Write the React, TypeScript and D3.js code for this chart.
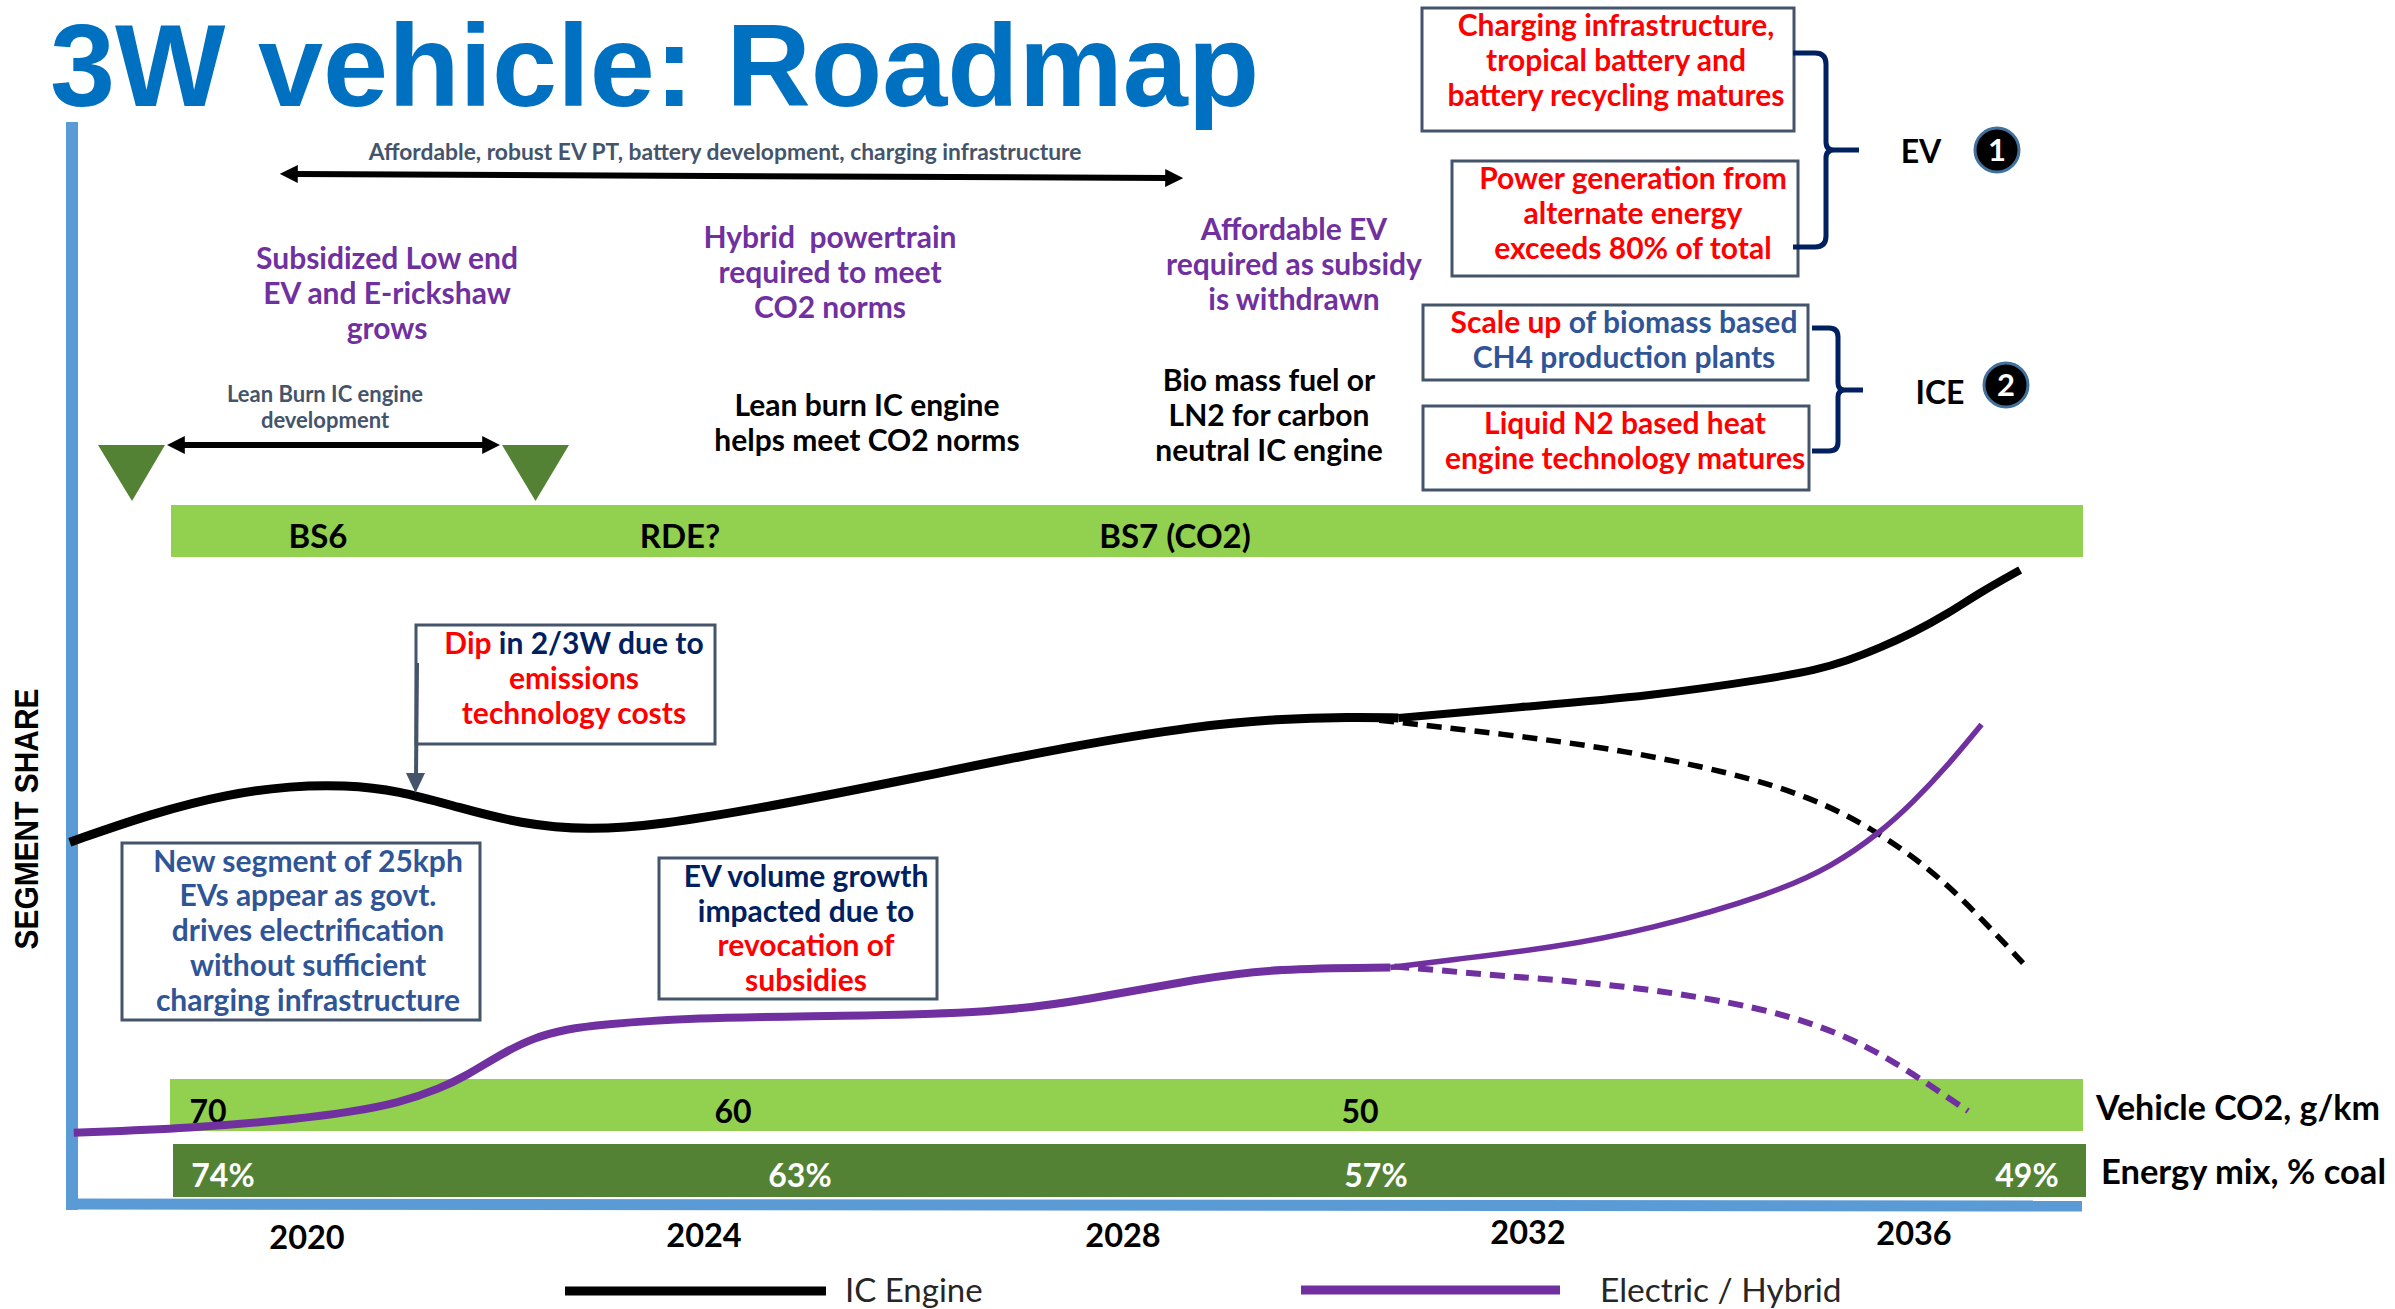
import React from 'react';
import * as d3 from 'd3';

// Curves: [year, segment share %]
const icEngine = [
  [2017.61, 33.5], [2018.45, 36.2], [2019.22, 38.0], [2019.84, 38.7], [2020.37, 38.8], [2020.92, 38.3],
  [2021.53, 36.7], [2022.15, 35.2], [2022.84, 34.6], [2023.54, 35.1], [2024.58, 36.7], [2026.04, 39.5],
  [2027.5, 42.4], [2028.76, 44.3], [2029.51, 44.9], [2030.26, 45.1], [2030.72, 45.0],
];
const icEngineHigh = [
  [2030.72, 45.0], [2031.89, 46.0], [2033.26, 47.0], [2034.61, 48.8], [2034.96, 49.4], [2035.31, 50.3],
  [2035.65, 51.5], [2035.99, 52.9], [2036.34, 54.6], [2036.68, 56.6], [2037.1, 58.7],
];
const icEngineLow = [
  [2030.53, 44.8], [2031.77, 43.5], [2032.94, 42.1], [2034.13, 39.9], [2034.92, 37.7], [2035.55, 34.9],
  [2036.19, 30.9], [2036.65, 26.9], [2037.13, 22.3],
];
const electric = [
  [2017.65, 6.6], [2018.83, 7.0], [2019.93, 7.9], [2020.43, 8.5], [2020.94, 9.4], [2021.34, 10.7],
  [2021.61, 11.9], [2021.94, 13.8], [2022.28, 15.4], [2022.62, 16.2], [2022.95, 16.6], [2023.85, 17.25],
  [2025.32, 17.4], [2026.78, 17.7], [2027.65, 18.9], [2028.76, 20.9], [2029.51, 21.8], [2030.64, 21.9],
];
const electricHigh = [
  [2030.64, 21.9], [2031.23, 22.6], [2032.23, 23.7], [2033.26, 25.4], [2034.53, 28.7], [2035.16, 31.3],
  [2035.65, 34.4], [2035.99, 37.2], [2036.34, 40.5], [2036.7, 44.4],
];
const electricLow = [
  [2030.68, 22.0], [2031.77, 21.1], [2032.94, 20.3], [2034.13, 18.7], [2034.92, 16.9], [2035.55, 14.5],
  [2036.1, 11.4], [2036.56, 8.6],
];

const tickYears = [2020, 2024, 2028, 2032, 2036];
const tickBaselines = [1249, 1247, 1247, 1244, 1245];
const normLabels = ['BS6', 'RDE?', 'BS7 (CO2)'];
const normX = [318, 680, 1175];
const co2Labels = ['70', '60', '50'];
const co2X = [208, 733, 1360];
const coalLabels = ['74%', '63%', '57%', '49%'];
const coalX = [223, 800, 1376, 2027];

const BLUE = '#2F5597';
const NAVY = '#002060';
const RED = '#FF0000';
const PURPLE = '#7030A0';
const SLATE = '#44546A';
const LIGHT_GREEN = '#92D050';
const DARK_GREEN = '#548235';
const AXIS = '#5B9BD5';

// the year axis of the slide is not quite even, so it is piecewise
const x = d3.scaleLinear().domain(tickYears).range([307, 704, 1123, 1528, 1914]);
const y = d3.scaleLinear().domain([0, 100]).range([1204, 124]);
const line = d3
  .line()
  .x((d) => x(d[0]))
  .y((d) => y(d[1]))
  .curve(d3.curveBasis);

const BODY = 'Lato, sans-serif';

const Note = ({ x, y, lines, fill = 'black', size = 30, step = 34.8 }) => (
  <text fontFamily={BODY} fontWeight={700} fontSize={size} fill={fill} textAnchor="middle">
    {lines.map((l, i) => (
      <tspan key={i} x={x} y={y + 1 + i * step}>
        {l}
      </tspan>
    ))}
  </text>
);

const Box = ({ x0, y0, x1, y1 }) => (
  <rect x={x0} y={y0} width={x1 - x0} height={y1 - y0} fill="white" stroke={SLATE} strokeWidth={3} />
);

const Badge = ({ cx, cy, label }) => (
  <g>
    <circle cx={cx} cy={cy} r={22} fill="black" stroke="#41719C" strokeWidth={3} />
    <text x={cx} y={cy + 11} textAnchor="middle" fontFamily={BODY} fontWeight={700} fontSize={31} fill="white">
      {label}
    </text>
  </g>
);

export default function App() {
  return (
    <svg width={2395} height={1309} style={{ position: 'absolute', left: 0, top: 0, background: 'white' }}>
      <defs>
        <marker id="head" viewBox="0 0 10 10" refX="1" refY="5" markerWidth="3" markerHeight="3" orient="auto-start-reverse">
          <path d="M0,0 L10,5 L0,10 Z" fill="black" />
        </marker>
      </defs>

      {/* title */}
      <text x={50} y={106} fontFamily="'Liberation Sans', Arial, sans-serif" fontWeight={700} fontSize={117} fill="#0070C0">
        3W vehicle: Roadmap
      </text>

      {/* axes */}
      <line x1={72} y1={122} x2={72} y2={1210} stroke={AXIS} strokeWidth={12} />
      <path d="M68,1204 L2082,1206" stroke={AXIS} strokeWidth={11} fill="none" />
      <text
        transform="translate(38,819) rotate(-90)"
        textAnchor="middle"
        fontFamily="'Liberation Sans', sans-serif"
        fontWeight={700}
        fontSize={33}
        textLength={261}
        lengthAdjust="spacingAndGlyphs"
      >
        SEGMENT SHARE
      </text>

      {/* roadmap arrows and milestones */}
      <line x1={296} y1={174} x2={1167} y2={178} stroke="black" strokeWidth={6} markerStart="url(#head)" markerEnd="url(#head)" />
      <line x1={183} y1={445} x2={484} y2={445} stroke="black" strokeWidth={6} markerStart="url(#head)" markerEnd="url(#head)" />
      <path d="M98,445 H165 L132,501 Z" fill={DARK_GREEN} />
      <path d="M502,445 H569 L535.5,501 Z" fill={DARK_GREEN} />

      <Note x={725} y={159} fill={SLATE} size={22.8} lines={['Affordable, robust EV PT, battery development, charging infrastructure']} />
      <Note x={387} y={268} fill={PURPLE} lines={['Subsidized Low end', 'EV and E-rickshaw', 'grows']} />
      <Note x={830} y={247} fill={PURPLE} lines={['Hybrid\u00A0 powertrain', 'required to meet', 'CO2 norms']} />
      <Note x={1294} y={239} fill={PURPLE} lines={['Affordable EV', 'required as subsidy', 'is withdrawn']} />
      <Note x={325} y={401} fill={SLATE} size={22} step={26} lines={['Lean Burn IC engine', 'development']} />
      <Note x={867} y={415} lines={['Lean burn IC engine', 'helps meet CO2 norms']} />
      <Note x={1269} y={390} lines={['Bio mass fuel or', 'LN2 for carbon', 'neutral IC engine']} />

      {/* bars */}
      <rect x={171} y={505} width={1912} height={52} fill={LIGHT_GREEN} />
      <rect x={170} y={1079} width={1913} height={52} fill={LIGHT_GREEN} />
      <rect x={173} y={1144} width={1913} height={53} fill={DARK_GREEN} />
      {normLabels.map((l, i) => (
        <text key={l} x={normX[i]} y={548} textAnchor="middle" fontFamily={BODY} fontWeight={700} fontSize={33}>
          {l}
        </text>
      ))}
      {co2Labels.map((l, i) => (
        <text key={l} x={co2X[i]} y={1123} textAnchor="middle" fontFamily={BODY} fontWeight={700} fontSize={32}>
          {l}
        </text>
      ))}
      {coalLabels.map((l, i) => (
        <text key={l} x={coalX[i]} y={1187} textAnchor="middle" fontFamily={BODY} fontWeight={700} fontSize={32} fill="white">
          {l}
        </text>
      ))}
      <text x={2096} y={1120} fontFamily={BODY} fontWeight={700} fontSize={34}>
        Vehicle CO2, g/km
      </text>
      <text x={2101} y={1184} fontFamily={BODY} fontWeight={700} fontSize={34.5}>
        Energy mix, % coal
      </text>

      {/* curves */}
      <path d={line(icEngine)} fill="none" stroke="black" strokeWidth={9} />
      <path d={line(icEngineHigh)} fill="none" stroke="black" strokeWidth={8} />
      <path d={line(icEngineLow)} fill="none" stroke="black" strokeWidth={5.5} strokeDasharray="15 9" />
      <path d={line(electric)} fill="none" stroke={PURPLE} strokeWidth={8} />
      <path d={line(electricHigh)} fill="none" stroke={PURPLE} strokeWidth={5.5} />
      <path d={line(electricLow)} fill="none" stroke={PURPLE} strokeWidth={6} strokeDasharray="15 9" />

      {/* call-outs on the curves */}
      <Box x0={416} y0={625} x1={715} y1={744} />
      <path d="M417,663 L416,776" stroke={SLATE} strokeWidth={4} fill="none" />
      <path d="M406,773 H425 L415.5,793 Z" fill={SLATE} />
      <Note
        x={574}
        y={653}
        fill={RED}
        lines={[
          <>
            Dip <tspan fill={NAVY}>in 2/3W due to</tspan>
          </>,
          'emissions',
          'technology costs',
        ]}
      />
      <Box x0={122} y0={843} x1={480} y1={1020} />
      <Note
        x={308}
        y={870.5}
        fill={BLUE}
        lines={['New segment of 25kph', 'EVs appear as govt.', 'drives electrification', 'without sufficient', 'charging infrastructure']}
      />
      <Box x0={659} y0={858} x1={937} y1={999} />
      <Note x={806} y={886} fill={NAVY} lines={['EV volume growth', 'impacted due to']} />
      <Note x={806} y={955} fill={RED} lines={['revocation of', 'subsidies']} />

      {/* enablers */}
      <Box x0={1422} y0={8} x1={1794} y1={131} />
      <Note x={1616} y={35} fill={RED} lines={['Charging infrastructure,', 'tropical battery and', 'battery recycling matures']} />
      <Box x0={1452} y0={161} x1={1798} y1={276} />
      <Note x={1633} y={188} fill={RED} lines={['Power generation from', 'alternate energy', 'exceeds 80% of total']} />
      <Box x0={1423} y0={305} x1={1808} y1={380} />
      <Note
        x={1624}
        y={332}
        fill={BLUE}
        lines={[
          <>
            <tspan fill={RED}>Scale up</tspan> of biomass based
          </>,
          'CH4 production plants',
        ]}
      />
      <Box x0={1423} y0={406} x1={1809} y1={490} />
      <Note x={1625} y={433} fill={RED} lines={['Liquid N2 based heat', 'engine technology matures']} />

      <path
        d="M1793,53 H1815 Q1826,53 1826,64 V142 Q1826,150 1834,150 H1859 M1834,150 Q1826,150 1826,158 V236 Q1826,247 1815,247 H1793"
        fill="none"
        stroke={NAVY}
        strokeWidth={5}
      />
      <path
        d="M1812,328 H1829 Q1838,328 1838,337 V383 Q1838,390 1845,390 H1863 M1845,390 Q1838,390 1838,397 V442 Q1838,451 1829,451 H1812"
        fill="none"
        stroke={NAVY}
        strokeWidth={5}
      />
      <Note x={1921} y={162} size={32} lines={['EV']} />
      <Badge cx={1997} cy={150} label="1" />
      <Note x={1940} y={403} size={32} lines={['ICE']} />
      <Badge cx={2006} cy={385} label="2" />

      {/* year ticks */}
      {tickYears.map((t, i) => (
        <text key={t} x={x(t)} y={tickBaselines[i]} textAnchor="middle" fontFamily={BODY} fontWeight={700} fontSize={32.5}>
          {t}
        </text>
      ))}

      {/* legend */}
      <line x1={565} y1={1291} x2={826} y2={1291} stroke="black" strokeWidth={9} />
      <text x={845} y={1302} fontFamily={BODY} fontSize={33} fill="#262626">
        IC Engine
      </text>
      <line x1={1301} y1={1290} x2={1560} y2={1290} stroke={PURPLE} strokeWidth={9} />
      <text x={1600} y={1302} fontFamily={BODY} fontSize={33.5} fill="#262626">
        Electric / Hybrid
      </text>
    </svg>
  );
}
